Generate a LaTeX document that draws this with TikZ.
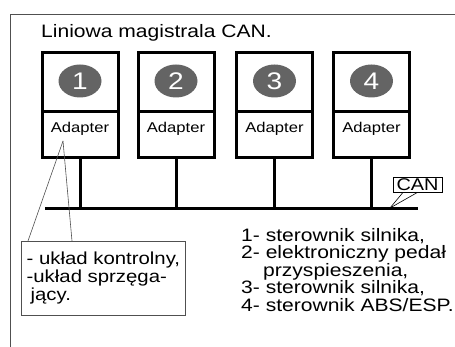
\documentclass[tikz,border=0pt]{standalone}
\usepackage{fontspec}
\setmainfont{Liberation Sans}[FakeStretch=1.17]
\usetikzlibrary{shapes.geometric}
\definecolor{framegray}{RGB}{80,80,80}
\definecolor{numgray}{RGB}{100,100,100}
\tikzset{
  ecutop/.style={draw, line width=3pt, minimum width=76pt, minimum height=59pt, inner sep=0pt},
  ecuadp/.style={draw, line width=3pt, minimum width=76pt, minimum height=46pt, inner sep=0pt},
  adptext/.style={anchor=base, inner sep=0pt, font=\fontsize{14.2}{16}\selectfont},
  numblob/.style={ellipse, fill=numgray, minimum width=43pt, minimum height=33pt, inner sep=0pt,
     text=white, font=\fontsize{24}{24}\selectfont},
  stem/.style={line width=3pt},
  thinline/.style={line width=0.8pt, draw=framegray},
}
\begin{document}
\begin{tikzpicture}[x=1pt,y=-1pt]
\useasboundingbox (0,0) rectangle (455,347);
% frame
\coordinate (ftl) at (10,14);
\coordinate (ftr) at (455,14);
\coordinate (fbl) at (10,347);
\draw[thinline] (ftr) -- (ftl) -- (fbl);
% title
\node[anchor=base west, inner sep=0pt, font=\fontsize{18}{18}\selectfont] (title) at (41,38) {Liniowa magistrala CAN.};
% ECU boxes
\foreach \i/\x in {1/80,2/176,3/274.5,4/371.5}{
  \node[ecutop] (t\i) at (\x,82.5) {};
  \node[ecuadp] (a\i) at (\x,135) {};
  \node[adptext] (at\i) at (\x,133) {Adapter};
  \node[numblob] (n\i) at (\x,81) {\i};
  \coordinate (j\i) at (\x,209);
  \draw[stem] (a\i.south) -- (j\i);
}
% bus
\coordinate (busL) at (45,209);
\coordinate (busR) at (418,209);
\draw[line width=3pt] (busL) -- (busR);
% CAN label
\node[draw, line width=0.8pt, minimum width=49pt, minimum height=15pt, inner sep=0pt,
  font=\fontsize{17}{17}\selectfont] (can) at (417.5,184.5) {CAN};
\coordinate (canpt) at (390,208);
\draw[line width=0.6pt] (canpt) -- ([xshift=-14.5pt]can.south);
\draw[line width=0.6pt] (canpt) -- (can.south);
% callout
\node[draw=framegray, line width=0.8pt, anchor=north west, minimum width=164pt, minimum height=74pt,
  inner sep=0pt, align=left,
  font=\fontsize{17.4}{18}\selectfont] (cb) at (21,241)
  {- układ kontrolny,\\-układ sprzęga-\\\hspace*{4pt}jący.};
\coordinate (apex) at (63,141);
\draw[line width=0.6pt, draw=framegray] (apex) -- ([xshift=7pt]cb.north west);
\draw[line width=0.6pt, draw=framegray] (apex) -- ([xshift=51pt]cb.north west);
% legend
\node[anchor=north west, inner sep=0pt, align=left, font=\fontsize{18}{17.5}\selectfont] (legend) at (241,228)
  {1- sterownik silnika,\\2- elektroniczny pedał\\\hspace*{22pt}przyspieszenia,\\3- sterownik silnika,\\4- sterownik ABS/ESP.};
\end{tikzpicture}
\end{document}
